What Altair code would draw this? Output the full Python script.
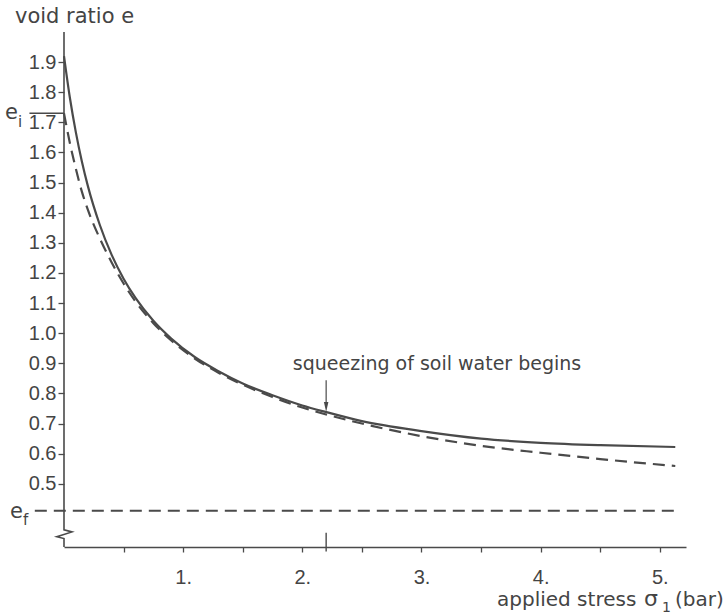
import altair as alt
import pandas as pd

# ---- data ----
sigma_solid = [0.0, 0.05, 0.1, 0.15, 0.2, 0.3, 0.4, 0.5, 0.6, 0.75, 0.9, 1.1, 1.3, 1.5,
               1.75, 2.0, 2.2, 2.5, 3.0, 3.5, 4.0, 4.5, 5.13]
e_solid = [1.92, 1.78, 1.666, 1.57, 1.489, 1.36, 1.26, 1.181, 1.117, 1.041, 0.982, 0.92,
           0.873, 0.833, 0.794, 0.760, 0.738, 0.708, 0.675, 0.650, 0.636, 0.628, 0.622]

sigma_dashed = [0.0, 0.05, 0.1, 0.15, 0.2, 0.3, 0.4, 0.5, 0.6, 0.75, 0.9, 1.1, 1.3, 1.5,
                1.75, 2.0, 2.2, 2.5, 3.0, 3.5, 4.0, 4.5, 5.13]
e_dashed = [1.73, 1.63, 1.545, 1.47, 1.41, 1.315, 1.235, 1.165, 1.105, 1.033, 0.976, 0.915,
            0.868, 0.829, 0.788, 0.753, 0.730, 0.700, 0.658, 0.626, 0.603, 0.582, 0.559]

e_initial = 1.73
e_final = 0.41
sigma_squeeze = 2.2

y_ticks = [0.5, 0.6, 0.7, 0.8, 0.9, 1.0, 1.1, 1.2, 1.3, 1.4, 1.5, 1.6, 1.7, 1.8, 1.9]
x_ticks = [0.5, 1, 1.5, 2, 2.5, 3, 3.5, 4, 4.5, 5]

# y-axis line with break (zig-zag) near the bottom
axis_break_s = [0.0, 0.0, 0.067, -0.06, 0.0, 0.0]
axis_break_e = [2.0, 0.347, 0.34, 0.324, 0.318, 0.29]

annotation = "squeezing of soil water begins"

X_DOM = [0, 5.22]
Y_DOM = [0.29, 2.0]
INK = "#4a4a4a"
TXT = "#444444"

xs = alt.Scale(domain=X_DOM, nice=False, zero=False)
ys = alt.Scale(domain=Y_DOM, nice=False, zero=False)

curves = pd.DataFrame({
    "s": sigma_solid + sigma_dashed,
    "e": e_solid + e_dashed,
    "kind": ["solid"] * len(sigma_solid) + ["dashed"] * len(sigma_dashed),
    "i": list(range(len(sigma_solid))) + list(range(len(sigma_dashed))),
})

base_x = alt.X("s:Q", scale=xs,
               axis=alt.Axis(values=x_ticks, tickCount=30, tickSize=5, labelPadding=15,
                             labelOverlap=False,
                             labelExpr="datum.value % 1 == 0 ? format(datum.value, 'd') + '.' : ''",
                             title=None, grid=False, domainColor=INK, tickColor=INK,
                             domainWidth=1.6, tickWidth=1.3,
                             labelFont="Liberation Sans", labelFontSize=20, labelColor=TXT))
base_y = alt.Y("e:Q", scale=ys,
               axis=alt.Axis(values=y_ticks, tickCount=30, format=".1f", tickSize=6, labelPadding=2,
                             labelOverlap=False, labelFlush=False,
                             domain=False, title=None, grid=False, tickColor=INK, tickWidth=1.3,
                             labelFont="Liberation Sans", labelFontSize=20, labelColor=TXT))

solid = alt.Chart(curves[curves.kind == "solid"]).mark_line(
    color=INK, strokeWidth=2.2, interpolate="monotone"
).encode(x=base_x, y=base_y, order="i:Q")

dashed = alt.Chart(curves[curves.kind == "dashed"]).mark_line(
    color=INK, strokeWidth=2.2, strokeDash=[12, 7], interpolate="monotone"
).encode(x=alt.X("s:Q", scale=xs), y=alt.Y("e:Q", scale=ys), order="i:Q")

yaxis_df = pd.DataFrame({"s": axis_break_s, "e": axis_break_e, "i": range(len(axis_break_s))})
yaxis_line = alt.Chart(yaxis_df).mark_line(color=INK, strokeWidth=1.6).encode(
    x=alt.X("s:Q", scale=xs), y=alt.Y("e:Q", scale=ys), order="i:Q")

ei_df = pd.DataFrame({"s": [-0.29], "s2": [0.0], "e": [e_initial]})
ei_line = alt.Chart(ei_df).mark_rule(color=INK, strokeWidth=1.5).encode(
    x=alt.X("s:Q", scale=xs), x2="s2:Q", y=alt.Y("e:Q", scale=ys))

ef_df = pd.DataFrame({"s": [-0.245], "s2": [5.15], "e": [e_final]})
ef_line = alt.Chart(ef_df).mark_rule(color=INK, strokeWidth=2, strokeDash=[12, 7]).encode(
    x=alt.X("s:Q", scale=xs), x2="s2:Q", y=alt.Y("e:Q", scale=ys))

tick_df = pd.DataFrame({"s": [sigma_squeeze], "e": [0.337], "e2": [0.275]})
tall_tick = alt.Chart(tick_df).mark_rule(color=INK, strokeWidth=1.4).encode(
    x=alt.X("s:Q", scale=xs), y=alt.Y("e:Q", scale=ys), y2="e2:Q")

arrow_df = pd.DataFrame({"s": [sigma_squeeze], "e": [0.844], "e2": [0.755]})
arrow_shaft = alt.Chart(arrow_df).mark_rule(color=INK, strokeWidth=1.2).encode(
    x=alt.X("s:Q", scale=xs), y=alt.Y("e:Q", scale=ys), y2="e2:Q")
arrow_head = alt.Chart(arrow_df).mark_point(
    shape="M-0.45,-1L0,1L0.45,-1Z", filled=True, size=100, color=INK, opacity=1
).encode(x=alt.X("s:Q", scale=xs), y=alt.Y("e2:Q", scale=ys))

ann_df = pd.DataFrame({"s": [1.92], "e": [0.897], "t": [annotation]})
ann_text = alt.Chart(ann_df).mark_text(
    align="left", baseline="middle", font="DejaVu Sans", fontSize=19, color=TXT
).encode(x=alt.X("s:Q", scale=xs), y=alt.Y("e:Q", scale=ys), text="t:N")

# free text labels (pixel positions relative to plot area)
labels = pd.DataFrame({
    "t": ["void ratio e", "applied stress", "σ", "1", "(bar)", "e", "i", "e", "f"],
    "px": [-49, 433, 580, 598, 611, -59, -46, -54, -41],
    "py": [-9, 574, 574, 580, 574, 87, 95, 486, 493],
    "fs": [21, 20, 22, 14, 20, 21, 15, 21, 15],
})
label_text = alt.Chart(labels).mark_text(
    align="left", baseline="alphabetic", font="DejaVu Sans", color=TXT
).encode(
    x=alt.X("px:Q", scale=None), y=alt.Y("py:Q", scale=None),
    text="t:N", size=alt.Size("fs:Q", scale=None, legend=None))

chart = alt.layer(
    solid, dashed, yaxis_line, ei_line, ef_line, tall_tick,
    arrow_shaft, arrow_head, ann_text, label_text
).properties(
    width=622, height=515,
    autosize=alt.AutoSizeParams(type="none"),
    padding={"left": 64, "top": 32, "right": 39, "bottom": 67},
    background="white",
).configure_view(stroke=None)

chart.save("out.html", embed_options={"renderer": "svg", "actions": False})
